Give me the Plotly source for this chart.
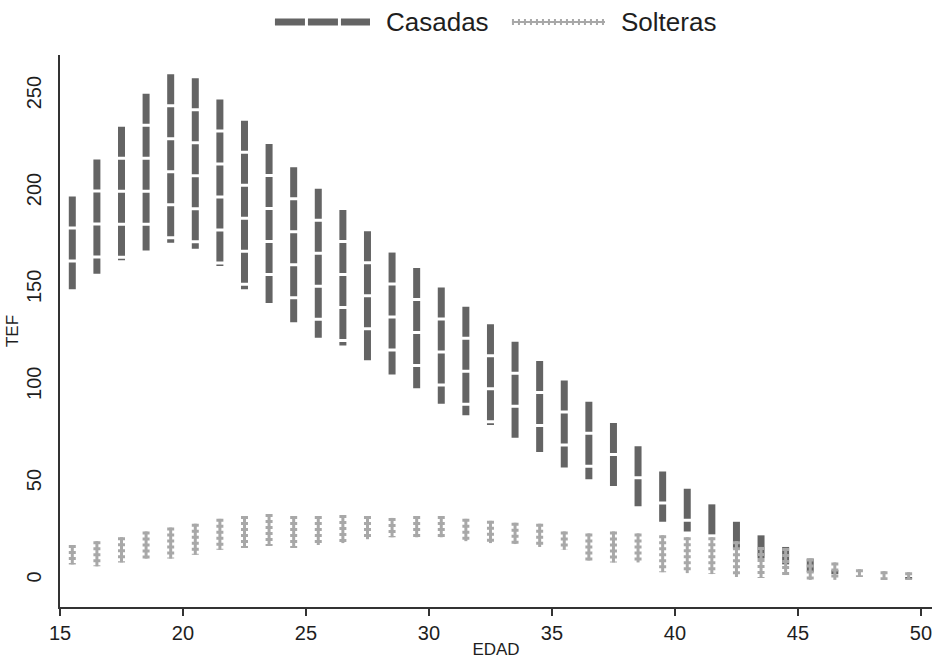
import plotly.graph_objects as go

ages = [15.5 + i for i in range(35)]

casadas_max = [198, 217, 234, 251, 261, 259, 248, 237, 225, 213, 202, 191, 180, 169, 161,
               151, 141, 132, 123, 113, 103, 92, 81, 69, 56, 47, 39, 30, 23, 17, 11, 5,
               None, None, 1.5]
casadas_min = [150, 158, 165, 170, 174, 171, 162, 150, 143, 133, 125, 121, 112, 106, 99,
               91, 85, 80, 72, 66, 58, 52, 47.5, 38, 30, 25, 23, 16, 11, 8, 4, 3,
               None, None, 0.5]

solteras_max = [18, 20, 22, 25, 27, 29, 31.5, 33, 34, 33, 33, 33.5, 33, 32, 33, 33, 31.5,
                30.5, 29.5, 29, 25, 24, 25, 24, 23, 22, 22, 20, 17, 16.5, 11, 9, 5.5, 4.5, 4]
solteras_min = [8, 7, 9, 11, 11, 13, 15.5, 16.5, 17.5, 16.5, 18, 19, 21, 22, 22, 22, 20,
                19, 18.5, 17, 15.5, 10, 9, 9, 4, 3.5, 3, 1.5, 1, 2.5, 0, 0, 1.5, 0, 0]

x_ticks = [15, 20, 25, 30, 35, 40, 45, 50]
y_ticks = [0, 50, 100, 150, 200, 250]
series_names = ["Casadas", "Solteras"]


def segs(xs, hi, lo):
    X, Y = [], []
    for a, h, l in zip(xs, hi, lo):
        if h is None or l is None:
            continue
        X += [a, a, None]
        Y += [h, l, None]
    return X, Y


cx, cy = segs(ages, casadas_max, casadas_min)
sx, sy = segs(ages, solteras_max, solteras_min)

DARK = "#646464"
LIGHT = "#a8a8a8"
TXT = "#1e1e1e"
FONT = "Liberation Sans, Arial, sans-serif"

fig = go.Figure()
fig.add_trace(go.Scatter(x=cx, y=cy, mode="lines", name=series_names[0], showlegend=False,
                         line=dict(color=DARK, width=7, dash="30px,3px")))
fig.add_trace(go.Scatter(x=sx, y=sy, mode="lines", name=series_names[1], showlegend=False,
                         line=dict(color=LIGHT, width=7, dash="3px,3px")))
fig.add_trace(go.Scatter(x=sx, y=sy, mode="lines", name=series_names[1], showlegend=False,
                         line=dict(color=LIGHT, width=3)))

# manual legend above the plot (paper coordinates)
LY = 1.0598
fig.add_shape(type="line", xref="paper", yref="paper", x0=0.2465, x1=0.3555, y0=LY, y1=LY,
              line=dict(color=DARK, width=7, dash="30px,3px"))
fig.add_shape(type="line", xref="paper", yref="paper", x0=0.5183, x1=0.625, y0=LY, y1=LY,
              line=dict(color=LIGHT, width=6, dash="2px,4px"))
fig.add_shape(type="line", xref="paper", yref="paper", x0=0.5183, x1=0.625, y0=LY, y1=LY,
              line=dict(color=LIGHT, width=2))
fig.add_annotation(xref="paper", yref="paper", x=0.3710, y=LY, xanchor="left", yanchor="middle",
                   text=series_names[0], showarrow=False, font=dict(size=26, color=TXT))
fig.add_annotation(xref="paper", yref="paper", x=0.6405, y=LY, xanchor="left", yanchor="middle",
                   text=series_names[1], showarrow=False, font=dict(size=26, color=TXT))

fig.update_layout(
    width=935, height=659,
    margin=dict(l=60, r=3, t=55, b=52),
    paper_bgcolor="white", plot_bgcolor="white",
    font=dict(family=FONT, color=TXT),
    showlegend=False,
    xaxis=dict(range=[15, 50.45], tickvals=x_ticks, ticks="outside", ticklen=7,
               tickwidth=2, tickcolor="#333333", showline=True, linecolor="#333333",
               linewidth=2, showgrid=False, zeroline=False, automargin=False,
               tickfont=dict(size=20, color=TXT),
               title=dict(text="EDAD", font=dict(size=17, color=TXT), standoff=0)),
    yaxis=dict(range=[-14, 271], tickvals=y_ticks, ticks="outside", ticklen=9,
               tickcolor="rgba(0,0,0,0)", tickangle=-90, showline=True,
               linecolor="#333333", linewidth=2, showgrid=False, zeroline=False,
               automargin=False,
               tickfont=dict(size=20, color=TXT),
               title=dict(text="TEF", font=dict(size=17, color=TXT), standoff=0)),
)

fig.write_html("out.html", config={"displayModeBar": False},
               post_script="document.body.style.margin='0';document.body.style.overflow='hidden';")
